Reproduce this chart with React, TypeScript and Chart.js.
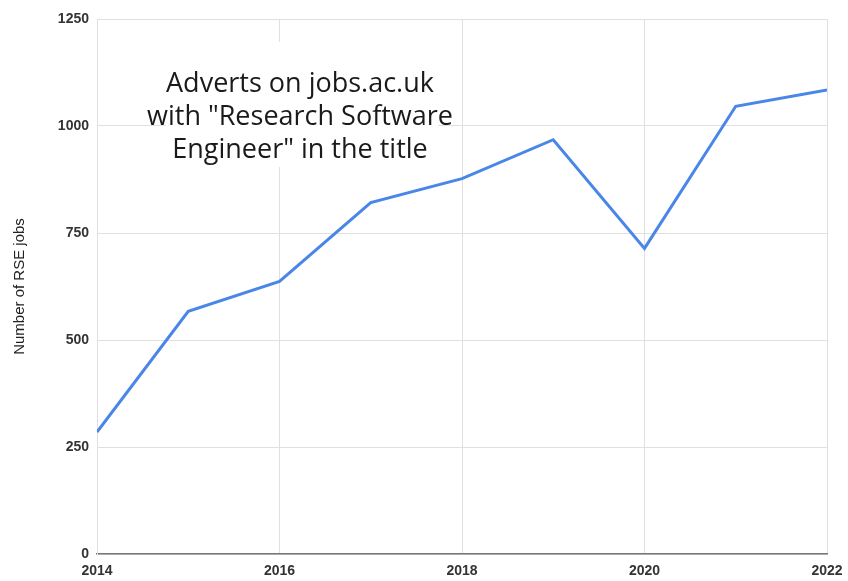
import React, { useEffect, useRef } from "react";
import { Chart, registerables } from "chart.js";

Chart.register(...registerables);

const years = [2014, 2015, 2016, 2017, 2018, 2019, 2020, 2021, 2022];
const jobs = [285, 567, 637, 821, 877, 968, 714, 1046, 1084];
const yTicks = [0, 250, 500, 750, 1000, 1250];
const annotationLines = ["Adverts on jobs.ac.uk", 'with "Research Software', 'Engineer" in the title'];
const yTitle = "Number of RSE jobs";

const annotationPlugin = {
  id: "annotationBox",
  afterDatasetsDraw(chart: any) {
    const ctx = chart.ctx;
    ctx.save();
    ctx.fillStyle = "#ffffff";
    ctx.fillRect(166, 42, 272, 125);
    ctx.fillStyle = "#1a1a1a";
    ctx.font = '27px "Open Sans"';
    ctx.textAlign = "center";
    ctx.textBaseline = "alphabetic";
    annotationLines.forEach((t, i) => {
      ctx.fillText(t, 300, 92 + i * 33);
    });
    ctx.restore();
  },
};

export default function App() {
  const ref = useRef<HTMLCanvasElement>(null);
  useEffect(() => {
    if (!ref.current) return;
    const chart = new Chart(ref.current, {
      type: "line",
      data: {
        datasets: [
          {
            data: years.map((x, i) => ({ x, y: jobs[i] })),
            borderColor: "#4a86e8",
            borderWidth: 3,
            pointRadius: 0,
            tension: 0,
            fill: false,
          },
        ],
      },
      options: {
        animation: false,
        responsive: false,
        layout: { padding: { top: 19, right: 21, left: 0, bottom: 0 } },
        plugins: { legend: { display: false }, tooltip: { enabled: false } },
        scales: {
          x: {
            type: "linear",
            min: 2014,
            max: 2022,
            afterFit: (s: any) => {
              s.height = 27;
              s.paddingLeft = 0;
              s.paddingRight = 0;
            },
            grid: { color: "#e0e0e0", drawTicks: false, lineWidth: 1 },
            border: { display: true, color: "#777777", width: 1.5 },
            ticks: {
              stepSize: 2,
              padding: 9,
              color: "#333333",
              font: { family: "Arial, 'Liberation Sans'", size: 14, weight: "bold" },
              callback: (v: any) => String(v),
              maxRotation: 0,
            },
          },
          y: {
            min: 0,
            max: 1250,
            afterBuildTicks: (s: any) => {
              s.ticks = yTicks.map((v) => ({ value: v }));
            },
            afterFit: (s: any) => {
              s.width = 97;
              s.paddingTop = 0;
              s.paddingBottom = 0;
            },
            grid: { color: "#e0e0e0", drawTicks: false },
            border: { display: true, color: "#e0e0e0" },
            ticks: {
              padding: 8,
              color: "#333333",
              font: { family: "Arial, 'Liberation Sans'", size: 14, weight: "bold" },
              callback: (v: any) => String(v),
            },
            title: {
              display: true,
              text: yTitle,
              color: "#222222",
              font: { family: "Arial, 'Liberation Sans'", size: 15 },
              padding: { top: 11, bottom: 0 },
            },
          },
        },
      },
      plugins: [annotationPlugin],
    });
    return () => chart.destroy();
  }, []);
  return (
    <div style={{ position: "absolute", left: 0, top: 0, width: 848, height: 581, background: "#fff" }}>
      <canvas ref={ref} width={848} height={581} style={{ display: "block" }} />
    </div>
  );
}
